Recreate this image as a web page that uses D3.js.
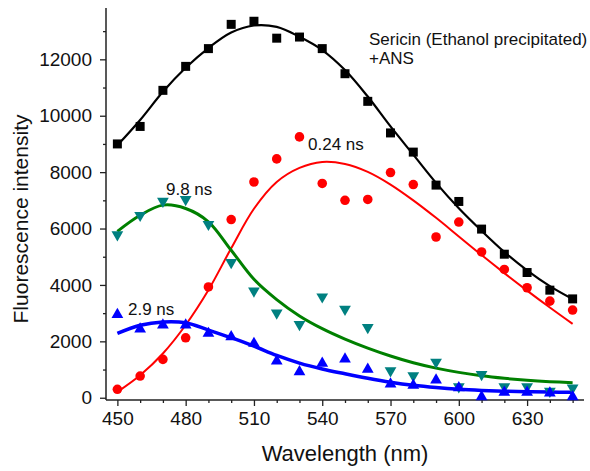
<!DOCTYPE html>
<html>
<head>
<meta charset="utf-8">
<script src="https://cdn.jsdelivr.net/npm/d3@7"></script>
<style>
  body { margin: 0; background: #fff; }
  svg text { font-family: Arial, "Liberation Sans", sans-serif; fill: #111; }
</style>
</head>
<body>
<svg width="590" height="471"></svg>
<script>
// wavelengths (nm) of the measured points
var wavelengths = [450, 460, 470, 480, 490, 500, 510, 520, 530, 540, 550,
                   560, 570, 580, 590, 600, 610, 620, 630, 640, 650];

// measured intensities
var totalPts = [9000, 9620, 10900, 11750, 12380, 13240, 13350, 12750, 12790, 12380, 11490,
                10510, 9390, 8710, 7540, 6960, 5980, 5090, 4440, 3815, 3505];
var fastPts  = [300, 770, 1360, 2125, 3930, 6320, 7650, 8470, 9250, 7600, 7000,
                7030, 7985, 7560, 5700, 6230, 5170, 4550, 3900, 3425, 3110];
var slowPts  = [5780, 6470, 6970, 7030, 6150, 4800, 3790, 3010, 2600, 3580, 3140,
                2495, 960, 780, 1265, 390, 830, 390, 390, 230, 345];
var midPts   = [2950, 2435, 2575, 2575, 2280, 2160, 1925, 1300, 920, 1220, 1370,
                1005, 485, 440, 625, 355, 35, 190, 190, 165, 35];

// fitted curves, read at the same wavelengths
var totalFit = [8950, 9850, 10850, 11700, 12400, 12950, 13200, 13150, 12800, 12330, 11620,
                10680, 9620, 8620, 7620, 6720, 5920, 5170, 4520, 3960, 3500];
var fastFit  = [210, 800, 1570, 2580, 3820, 5300, 6700, 7650, 8150, 8360, 8290,
                8010, 7560, 7000, 6380, 5720, 5060, 4420, 3800, 3200, 2620];
var slowFit  = [5900, 6470, 6830, 6710, 6240, 5230, 4200, 3480, 2900, 2450, 2080,
                1760, 1480, 1240, 1050, 900, 780, 690, 620, 570, 535];
var midFit   = [2280, 2570, 2690, 2660, 2400, 2130, 1830, 1500, 1230, 1020, 850,
                690, 550, 440, 360, 300, 260, 232, 214, 202, 192];

var xTicks = [450, 480, 510, 540, 570, 600, 630];
var yTicks = [0, 2000, 4000, 6000, 8000, 10000, 12000];

var series = [
  { pts: totalPts, fit: totalFit, marker: "square",   mColor: "#000000", lColor: "#000000", lw: 2.2 },
  { pts: fastPts,  fit: fastFit,  marker: "circle",   mColor: "#ff0000", lColor: "#ff0000", lw: 2 },
  { pts: slowPts,  fit: slowFit,  marker: "triDown",  mColor: "#008080", lColor: "#008000", lw: 3 },
  { pts: midPts,   fit: midFit,   marker: "triUp",    mColor: "#0000ff", lColor: "#0000ff", lw: 3.5 }
];

var svg = d3.select("svg");

var x = d3.scaleLinear().domain([445, 655]).range([106, 584]);
var y = d3.scaleLinear().domain([-80, 13820]).range([400, 8]);

// axes
var xAxis = d3.axisBottom(x).tickValues(xTicks).tickFormat(d3.format("d")).tickSize(6).tickPadding(6);
var xMinor = d3.axisBottom(x).tickValues(wavelengths.filter(function(d) { return xTicks.indexOf(d) < 0; })).tickSize(3).tickFormat("");
var yAxis = d3.axisLeft(y).tickValues(yTicks).tickFormat(d3.format("d")).tickSize(6).tickPadding(8);
var yMinor = d3.axisLeft(y).tickValues([1000, 3000, 5000, 7000, 9000, 11000, 13000]).tickSize(3).tickFormat("");

function styleAxis(g) {
  g.select(".domain").attr("stroke", "#222").attr("stroke-width", 1.5);
  g.selectAll(".tick line").attr("stroke", "#222").attr("stroke-width", 1.3);
  g.selectAll(".tick text").style("font-size", "19px").attr("fill", "#111");
}

svg.append("g").attr("transform", "translate(0,400)").call(xMinor).call(styleAxis)
  .select(".domain").remove();
svg.append("g").attr("transform", "translate(106,0)").call(yMinor).call(styleAxis)
  .select(".domain").remove();

var gx = svg.append("g").attr("transform", "translate(0,400)").call(xAxis);
gx.select(".domain").attr("d", "M106,0H584");
styleAxis(gx);
var gy = svg.append("g").attr("transform", "translate(106,0)").call(yAxis);
gy.select(".domain").attr("d", "M0,400V8");
styleAxis(gy);

// axis titles
svg.append("text").attr("x", 345).attr("y", 461).attr("text-anchor", "middle")
  .style("font-size", "22px").text("Wavelength (nm)");
svg.append("text").attr("transform", "translate(28,219) rotate(-90)").attr("text-anchor", "middle")
  .style("font-size", "21px").text("Fluorescence intensity");

// fit lines
var line = d3.line()
  .x(function(d, i) { return x(wavelengths[i]); })
  .y(function(d) { return y(d); })
  .curve(d3.curveCatmullRom);

series.forEach(function(s) {
  svg.append("path").datum(s.fit)
    .attr("d", line)
    .attr("fill", "none")
    .attr("stroke", s.lColor)
    .attr("stroke-width", s.lw);
});

// markers
var sym = {
  square: d3.symbol().type(d3.symbolSquare).size(81),
  circle: d3.symbol().type(d3.symbolCircle).size(72),
  triUp: d3.symbol().type(d3.symbolTriangle).size(60)
};

series.forEach(function(s) {
  var g = svg.append("g");
  g.selectAll("path").data(s.pts).enter().append("path")
    .attr("d", function() { return s.marker === "triDown" ? sym.triUp() : sym[s.marker](); })
    .attr("transform", function(d, i) {
      var t = "translate(" + x(wavelengths[i]) + "," + y(d) + ")";
      if (s.marker === "triDown") t += " rotate(180)";
      return t;
    })
    .attr("fill", s.mColor);
});

// annotations
function label(tx, ty, str) {
  svg.append("text").attr("x", tx).attr("y", ty).style("font-size", "17px").text(str);
}
label(369, 45, "Sericin (Ethanol precipitated)");
label(369, 64, "+ANS");
label(308, 150, "0.24 ns");
label(166, 195, "9.8 ns");
label(128, 315, "2.9 ns");
</script>
</body>
</html>
